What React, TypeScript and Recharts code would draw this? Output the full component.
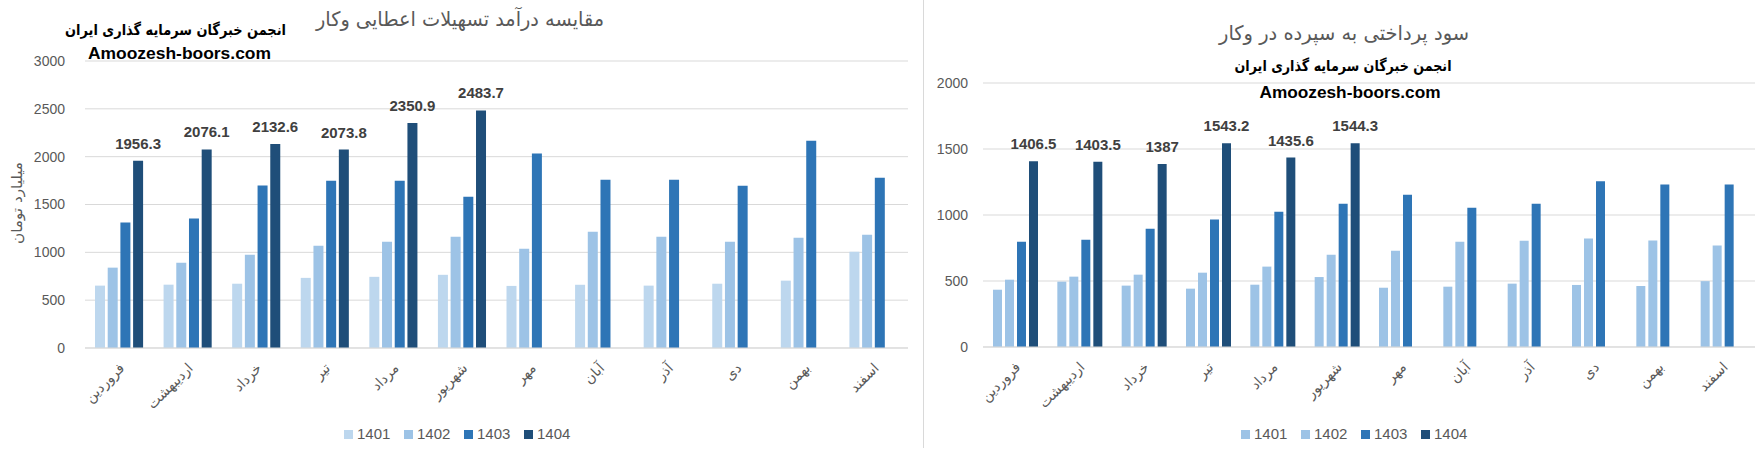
import React from 'react';
import { BarChart, Bar, XAxis, YAxis, CartesianGrid, Legend, LabelList } from 'recharts';

const months = ['فروردین', 'اردیبهشت', 'خرداد', 'تیر', 'مرداد', 'شهریور', 'مهر', 'آبان', 'آذر', 'دی', 'بهمن', 'اسفند'];
const seriesNames = ['1401', '1402', '1403', '1404'];

// Left chart: مقایسه درآمد تسهیلات اعطایی وکار
const income1401 = [652, 662, 672, 733, 744, 765, 649, 661, 652, 672, 704, 1007];
const income1402 = [840, 892, 976, 1068, 1110, 1163, 1037, 1215, 1164, 1111, 1153, 1185];
const income1403 = [1311, 1354, 1699, 1749, 1749, 1582, 2032, 1760, 1759, 1697, 2167, 1780];
const income1404 = [1956.3, 2076.1, 2132.6, 2073.8, 2350.9, 2483.7, null, null, null, null, null, null];
const incomeTicks = [0, 500, 1000, 1500, 2000, 2500, 3000];

// Right chart: سود پرداختی به سپرده در وکار
const interest1401 = [434, 495, 465, 442, 472, 530, 449, 457, 480, 470, 462, 499];
const interest1402 = [510, 533, 548, 563, 609, 699, 730, 798, 805, 822, 806, 769];
const interest1403 = [798, 813, 896, 965, 1025, 1086, 1154, 1055, 1086, 1255, 1232, 1232];
const interest1404 = [1406.5, 1403.5, 1387, 1543.2, 1435.6, 1544.3, null, null, null, null, null, null];
const interestTicks = [0, 500, 1000, 1500, 2000];

const leftColors = ['#BDD7EE', '#9DC3E6', '#2E75B6', '#1F4E79'];
const rightColors = ['#9DC3E6', '#9DC3E6', '#2E75B6', '#1F4E79'];

const leftData = months.map((m, i) => ({
  month: m,
  s1401: income1401[i],
  s1402: income1402[i],
  s1403: income1403[i],
  s1404: income1404[i],
}));
const rightData = months.map((m, i) => ({
  month: m,
  s1401: interest1401[i],
  s1402: interest1402[i],
  s1403: interest1403[i],
  s1404: interest1404[i],
}));

const GRAY = '#595959';
const GRID = '#D9D9D9';
const LATIN = "'Liberation Sans', Arial, sans-serif";
const PERSIAN = "'DejaVu Sans', sans-serif";

const MonthTick = (props: any) => {
  const { x, y, payload } = props;
  const ax = x + 6;
  const ay = y + 13;
  return (
    <text
      x={ax}
      y={ay}
      transform={`rotate(-45, ${ax}, ${ay})`}
      textAnchor="end"
      fontSize={14}
      fill={GRAY}
      fontFamily={PERSIAN}
    >
      {payload.value}
    </text>
  );
};

const TopLabel = (props: any) => {
  const { x, y, width, value } = props;
  if (value === null || value === undefined) return null;
  return (
    <text
      x={Number(x) + Number(width) / 2}
      y={Number(y) - 12}
      textAnchor="middle"
      fontSize={15}
      fontWeight="bold"
      fill="#404040"
      fontFamily={LATIN}
    >
      {value}
    </text>
  );
};

const makeLegend = (colors: string[]) => () => (
  <div style={{ display: 'flex', alignItems: 'center', height: 20 }}>
    {seriesNames.map((n, i) => (
      <div key={n} style={{ display: 'flex', alignItems: 'center', width: 60 }}>
        <span style={{ display: 'inline-block', width: 9, height: 9, background: colors[i], marginRight: 4 }} />
        <span style={{ fontSize: 15, color: GRAY, fontFamily: LATIN, lineHeight: '20px' }}>{n}</span>
      </div>
    ))}
  </div>
);

const LeftLegend = makeLegend(leftColors);
const RightLegend = makeLegend(rightColors);

export default function App() {
  return (
    <div style={{ position: 'absolute', left: 0, top: 0, width: 1762, height: 452, background: '#fff', overflow: 'hidden' }}>
      <div style={{ position: 'absolute', left: 0, top: 0 }}>
        <BarChart
          width={920}
          height={452}
          data={leftData}
          margin={{ top: 61, right: 12, left: 25, bottom: 8 }}
          barSize={10}
          barGap={2.7}
        >
          <CartesianGrid vertical={false} stroke={GRID} />
          <XAxis
            dataKey="month"
            tickLine={false}
            axisLine={{ stroke: GRID }}
            interval={0}
            height={76}
            tick={<MonthTick />}
          />
          <YAxis
            width={60}
            domain={[0, 3000]}
            ticks={incomeTicks}
            tickLine={false}
            axisLine={false}
            tickMargin={14}
            tick={{ fontSize: 14, fill: GRAY, fontFamily: LATIN }}
          />
          <Legend
            verticalAlign="bottom"
            content={<LeftLegend />}
            wrapperStyle={{ left: 344, width: 260, height: 20 }}
          />
          <Bar dataKey="s1401" name="1401" fill={leftColors[0]} isAnimationActive={false} />
          <Bar dataKey="s1402" name="1402" fill={leftColors[1]} isAnimationActive={false} />
          <Bar dataKey="s1403" name="1403" fill={leftColors[2]} isAnimationActive={false} />
          <Bar dataKey="s1404" name="1404" fill={leftColors[3]} isAnimationActive={false}>
            <LabelList dataKey="s1404" content={<TopLabel />} />
          </Bar>
        </BarChart>
      </div>
      <div style={{ position: 'absolute', left: 923, top: 0 }}>
        <BarChart
          width={839}
          height={452}
          data={rightData}
          margin={{ top: 83, right: 7, left: 10, bottom: 8 }}
          barSize={9}
          barGap={3}
        >
          <CartesianGrid vertical={false} stroke={GRID} />
          <XAxis
            dataKey="month"
            tickLine={false}
            axisLine={{ stroke: GRID }}
            interval={0}
            height={77}
            tick={<MonthTick />}
          />
          <YAxis
            width={50}
            domain={[0, 2000]}
            ticks={interestTicks}
            tickLine={false}
            axisLine={false}
            tickMargin={9}
            tick={{ fontSize: 14, fill: GRAY, fontFamily: LATIN }}
          />
          <Legend
            verticalAlign="bottom"
            content={<RightLegend />}
            wrapperStyle={{ left: 318, width: 260, height: 20 }}
          />
          <Bar dataKey="s1401" name="1401" fill={rightColors[0]} isAnimationActive={false} />
          <Bar dataKey="s1402" name="1402" fill={rightColors[1]} isAnimationActive={false} />
          <Bar dataKey="s1403" name="1403" fill={rightColors[2]} isAnimationActive={false} />
          <Bar dataKey="s1404" name="1404" fill={rightColors[3]} isAnimationActive={false}>
            <LabelList dataKey="s1404" content={<TopLabel />} />
          </Bar>
        </BarChart>
      </div>
      <svg
        width={1762}
        height={452}
        style={{ position: 'absolute', left: 0, top: 0, pointerEvents: 'none' }}
      >
        <line x1={923.5} y1={0} x2={923.5} y2={448} stroke={GRID} strokeWidth={1} />
        {/* left chart titles */}
        <text x={604} y={26} textAnchor="end" fontSize={20} fill={GRAY} fontFamily={PERSIAN} textLength={288} lengthAdjust="spacingAndGlyphs">
          مقایسه درآمد تسهیلات اعطایی وکار
        </text>
        <text x={286} y={35} textAnchor="end" fontSize={15} fontWeight="bold" fill="#000" fontFamily={PERSIAN} textLength={221} lengthAdjust="spacingAndGlyphs">
          انجمن خبرگان سرمایه گذاری ایران
        </text>
        <text x={88} y={59} textAnchor="start" fontSize={17} fontWeight="bold" fill="#000" fontFamily={LATIN} textLength={183} lengthAdjust="spacingAndGlyphs">
          Amoozesh-boors.com
        </text>
        <text
          x={17}
          y={203}
          transform="rotate(-90, 17, 203)"
          textAnchor="middle"
          dominantBaseline="central"
          fontSize={14}
          fill={GRAY}
          fontFamily={PERSIAN}
          textLength={82}
          lengthAdjust="spacingAndGlyphs"
        >
          میلیارد تومان
        </text>
        {/* right chart titles */}
        <text x={1344} y={40} textAnchor="middle" fontSize={20} fill={GRAY} fontFamily={PERSIAN} textLength={250} lengthAdjust="spacingAndGlyphs">
          سود پرداختی به سپرده در وکار
        </text>
        <text x={1343} y={71} textAnchor="middle" fontSize={15} fontWeight="bold" fill="#000" fontFamily={PERSIAN} textLength={217} lengthAdjust="spacingAndGlyphs">
          انجمن خبرگان سرمایه گذاری ایران
        </text>
        <text x={1350} y={98} textAnchor="middle" fontSize={16} fontWeight="bold" fill="#000" fontFamily={LATIN} textLength={181} lengthAdjust="spacingAndGlyphs">
          Amoozesh-boors.com
        </text>
      </svg>
    </div>
  );
}
